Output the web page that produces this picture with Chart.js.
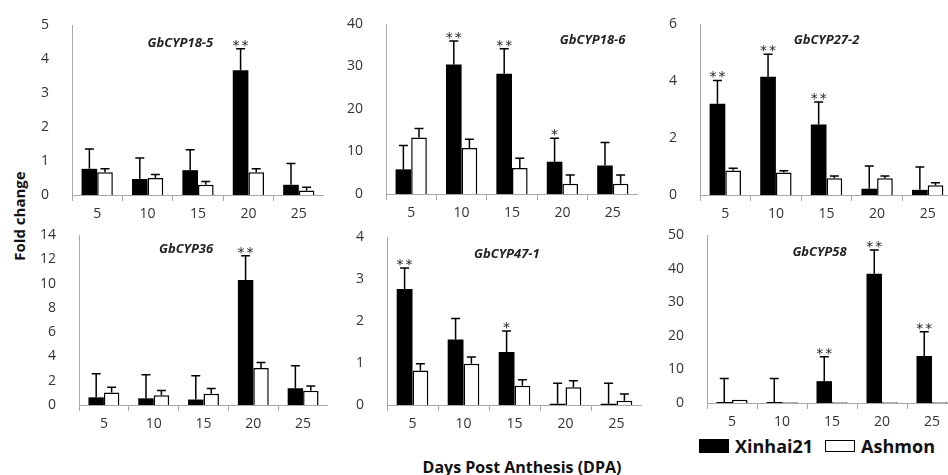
<!DOCTYPE html>
<html>
<head>
<meta charset="utf-8">
<script src="https://cdn.jsdelivr.net/npm/chart.js@4.4.0/dist/chart.umd.min.js"></script>
<style>
body{margin:0;width:948px;height:475px;overflow:hidden;background:#fff;position:relative;font-family:"Open Sans",sans-serif;}
.panel{position:absolute;}
#ytitle{position:absolute;left:19px;top:216px;transform:translate(-50%,-50%) rotate(-90deg);font-weight:bold;font-size:15px;white-space:nowrap;color:#111;}
#xtitle{position:absolute;left:522px;top:467px;transform:translate(-50%,-50%);font-weight:bold;font-size:16px;white-space:nowrap;color:#111;}
#legend{position:absolute;left:699px;top:432px;font-weight:bold;font-size:18px;color:#111;white-space:nowrap;}
#legend span{display:inline-block;vertical-align:middle;}
.box{width:30px;height:14px;margin-right:6px;box-sizing:border-box;}
</style>
</head>
<body>
<div id="ytitle">Fold change</div>
<div id="xtitle">Days Post Anthesis (DPA)</div>
<div id="legend"></div>
<script>
var days = ["5", "10", "15", "20", "25"];
var seriesNames = ["Xinhai21", "Ashmon"];

// GbCYP18-5
var cyp18_5_xinhai = [0.77, 0.47, 0.73, 3.67, 0.30];
var cyp18_5_xinhaiErr = [0.58, 0.62, 0.60, 0.63, 0.63];
var cyp18_5_ashmon = [0.67, 0.50, 0.30, 0.67, 0.13];
var cyp18_5_ashmonErr = [0.10, 0.10, 0.10, 0.10, 0.10];
var cyp18_5_stars = ["", "", "", "**", ""];

// GbCYP18-6
var cyp18_6_xinhai = [5.8, 30.5, 28.3, 7.6, 6.7];
var cyp18_6_xinhaiErr = [5.6, 5.5, 5.9, 5.5, 5.4];
var cyp18_6_ashmon = [13.3, 10.8, 6.1, 2.4, 2.4];
var cyp18_6_ashmonErr = [2.1, 2.1, 2.3, 2.1, 2.1];
var cyp18_6_stars = ["", "**", "**", "*", ""];

// GbCYP27-2
var cyp27_2_xinhai = [3.20, 4.15, 2.47, 0.22, 0.18];
var cyp27_2_xinhaiErr = [0.82, 0.79, 0.79, 0.80, 0.80];
var cyp27_2_ashmon = [0.86, 0.79, 0.59, 0.59, 0.34];
var cyp27_2_ashmonErr = [0.08, 0.06, 0.08, 0.08, 0.09];
var cyp27_2_stars = ["**", "**", "**", "", ""];

// GbCYP36
var cyp36_xinhai = [0.63, 0.55, 0.45, 10.3, 1.38];
var cyp36_xinhaiErr = [1.94, 1.95, 1.95, 2.0, 1.85];
var cyp36_ashmon = [1.02, 0.80, 0.92, 3.05, 1.18];
var cyp36_ashmonErr = [0.45, 0.40, 0.43, 0.45, 0.39];
var cyp36_stars = ["", "", "", "**", ""];

// GbCYP47-1
var cyp47_1_xinhai = [2.76, 1.56, 1.26, 0.03, 0.03];
var cyp47_1_xinhaiErr = [0.50, 0.50, 0.50, 0.49, 0.49];
var cyp47_1_ashmon = [0.82, 0.98, 0.46, 0.42, 0.10];
var cyp47_1_ashmonErr = [0.16, 0.16, 0.14, 0.16, 0.16];
var cyp47_1_stars = ["**", "", "*", "", ""];

// GbCYP58
var cyp58_xinhai = [0.3, 0.3, 6.5, 38.5, 14.0];
var cyp58_xinhaiErr = [7.0, 7.0, 7.3, 7.0, 7.2];
var cyp58_ashmon = [1.0, 0.2, 0.2, 0.2, 0.2];
var cyp58_ashmonErr = [0, 0, 0, 0, 0];
var cyp58_stars = ["", "", "**", "**", "**"];

var panels = [
    {name: "GbCYP18-5", xin: cyp18_5_xinhai, xinErr: cyp18_5_xinhaiErr, ash: cyp18_5_ashmon, ashErr: cyp18_5_ashmonErr, stars: cyp18_5_stars,
     yMax: 5, step: 1, axisX: 72, right: 324, yTop: 25, yBottom: 195, tx: 0.43, ty: 18},
    {name: "GbCYP18-6", xin: cyp18_6_xinhai, xinErr: cyp18_6_xinhaiErr, ash: cyp18_6_ashmon, ashErr: cyp18_6_ashmonErr, stars: cyp18_6_stars,
     yMax: 40, step: 10, axisX: 386, right: 638, yTop: 24, yBottom: 194, tx: 0.82, ty: 16},
    {name: "GbCYP27-2", xin: cyp27_2_xinhai, xinErr: cyp27_2_xinhaiErr, ash: cyp27_2_ashmon, ashErr: cyp27_2_ashmonErr, stars: cyp27_2_stars,
     yMax: 6, step: 2, axisX: 700, right: 953, yTop: 24, yBottom: 195, tx: 0.5, ty: 16},
    {name: "GbCYP36", xin: cyp36_xinhai, xinErr: cyp36_xinhaiErr, ash: cyp36_ashmon, ashErr: cyp36_ashmonErr, stars: cyp36_stars,
     yMax: 14, step: 2, axisX: 79, right: 328, yTop: 235, yBottom: 405, tx: 0.43, ty: 14},
    {name: "GbCYP47-1", xin: cyp47_1_xinhai, xinErr: cyp47_1_xinhaiErr, ash: cyp47_1_ashmon, ashErr: cyp47_1_ashmonErr, stars: cyp47_1_stars,
     yMax: 4, step: 1, axisX: 387, right: 642, yTop: 237, yBottom: 405, tx: 0.47, ty: 17},
    {name: "GbCYP58", xin: cyp58_xinhai, xinErr: cyp58_xinhaiErr, ash: cyp58_ashmon, ashErr: cyp58_ashmonErr, stars: cyp58_stars,
     yMax: 50, step: 10, axisX: 707, right: 957, yTop: 235, yBottom: 403, tx: 0.45, ty: 17}
];

// error bars (upward only) plus significance stars
var errorBarPlugin = {
    id: 'errorBars',
    afterDatasetsDraw: function(chart) {
        var ctx = chart.ctx;
        var yScale = chart.scales.y;
        ctx.save();
        ctx.strokeStyle = '#000';
        ctx.lineWidth = 1.5;
        chart.data.datasets.forEach(function(ds, di) {
            var meta = chart.getDatasetMeta(di);
            meta.data.forEach(function(bar, i) {
                var err = ds.errors[i];
                if (!err) return;
                var top = yScale.getPixelForValue(ds.data[i] + err);
                ctx.beginPath();
                ctx.moveTo(bar.x, bar.y);
                ctx.lineTo(bar.x, top);
                ctx.moveTo(bar.x - 4.5, top);
                ctx.lineTo(bar.x + 4.5, top);
                ctx.stroke();
                if (ds.stars && ds.stars[i]) {
                    ctx.fillStyle = '#222';
                    ctx.font = '14px "DejaVu Sans"';
                    ctx.textAlign = 'center';
                    ctx.textBaseline = 'alphabetic';
                    ctx.letterSpacing = '2px';
                    ctx.fillText(ds.stars[i], bar.x + 1, top + 1);
                }
            });
        });
        ctx.restore();
    }
};

var geneTitlePlugin = {
    id: 'geneTitle',
    afterDraw: function(chart, args, opts) {
        var ctx = chart.ctx;
        var area = chart.chartArea;
        ctx.save();
        ctx.fillStyle = '#222';
        ctx.font = 'italic bold 13px "Open Sans"';
        ctx.textAlign = 'center';
        ctx.textBaseline = 'middle';
        ctx.fillText(opts.text, area.left + opts.x * (area.right - area.left), area.top + opts.y);
        ctx.restore();
    }
};

var axisColor = '#a8a8a8';
var tickFont = {family: '"Open Sans"', size: 14};

panels.forEach(function(p, n) {
    // padTop must cover the y scale's own top padding (half label + tick padding)
    var yAxisW = 45, xAxisH = 30, padTop = 24;
    var canvas = document.createElement('canvas');
    canvas.className = 'panel';
    var left = p.axisX - yAxisW;
    var top = p.yTop - padTop;
    var w = p.right - left;
    var h = p.yBottom - top + xAxisH;
    canvas.style.left = left + 'px';
    canvas.style.top = top + 'px';
    canvas.style.width = w + 'px';
    canvas.style.height = h + 'px';
    canvas.width = w;
    canvas.height = h;
    document.body.appendChild(canvas);

    new Chart(canvas, {
        type: 'bar',
        data: {
            labels: days,
            datasets: [
                {
                    label: seriesNames[0],
                    data: p.xin,
                    errors: p.xinErr,
                    stars: p.stars,
                    backgroundColor: '#000',
                    borderColor: '#000',
                    borderWidth: 0
                },
                {
                    label: seriesNames[1],
                    data: p.ash,
                    errors: p.ashErr,
                    backgroundColor: '#fff',
                    borderColor: '#000',
                    borderWidth: 1.5
                }
            ]
        },
        options: {
            responsive: false,
            animation: false,
            devicePixelRatio: 1,
            categoryPercentage: 0.62,
            barPercentage: 1,
            layout: {padding: {top: padTop, left: 0, right: 0, bottom: 0}},
            plugins: {
                legend: {display: false},
                tooltip: {enabled: false},
                geneTitle: {text: p.name, x: p.tx, y: p.ty}
            },
            scales: {
                x: {
                    grid: {display: true, drawOnChartArea: false, drawTicks: true, tickLength: 6, color: axisColor, offset: true},
                    border: {color: axisColor, width: 1},
                    ticks: {color: '#333', font: tickFont, padding: 5, maxRotation: 0},
                    afterFit: function(scale) { scale.height = xAxisH; }
                },
                y: {
                    min: 0,
                    max: p.yMax,
                    grid: {display: false},
                    border: {color: axisColor, width: 1},
                    ticks: {stepSize: p.step, color: '#333', font: tickFont, padding: 15},
                    afterFit: function(scale) { scale.width = yAxisW; }
                }
            }
        },
        plugins: [errorBarPlugin, geneTitlePlugin]
    });
});

// legend
var legend = document.getElementById('legend');
legend.innerHTML =
    '<span class="box" style="background:#000;"></span><span style="margin-right:12px;">' + seriesNames[0] + '</span>' +
    '<span class="box" style="background:#fff;border:1.5px solid #000;height:12px;"></span><span>' + seriesNames[1] + '</span>';
</script>
</body>
</html>
